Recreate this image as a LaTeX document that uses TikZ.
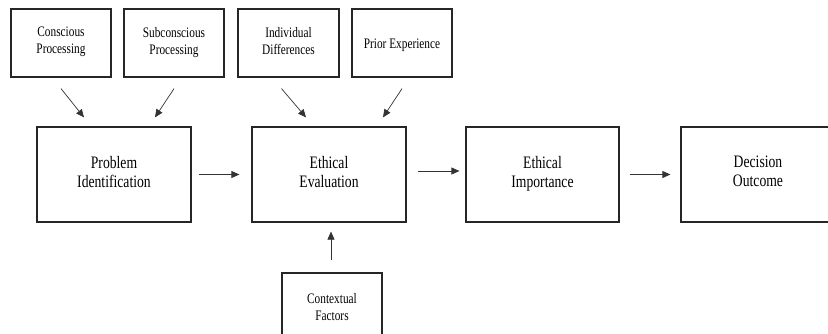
\documentclass[tikz,border=0pt]{standalone}
\usepackage{fontspec}
\setmainfont{Liberation Serif}[FakeStretch=0.78]
\usetikzlibrary{arrows.meta}
\begin{document}
\begin{tikzpicture}[x=1pt,y=-1pt,
  bigbox/.style={draw=black!85,line width=1.2pt,minimum width=154pt,minimum height=95pt,align=center,inner sep=0pt,font=\fontsize{17.5}{19}\selectfont,execute at begin node={\rule{0pt}{16pt}},execute at end node={\rule[-6pt]{0pt}{6pt}}},
  smallbox/.style={draw=black!85,line width=1.2pt,minimum width=100pt,minimum height=68pt,align=center,inner sep=0pt,font=\fontsize{14.5}{17}\selectfont,execute at begin node={\rule{0pt}{16pt}},execute at end node={\rule[-5pt]{0pt}{5pt}}},
  arr/.style={draw=black!80,line width=0.7pt,-{Triangle[length=8pt,width=7pt]}}]
\useasboundingbox (0,0) rectangle (828,334);
\clip (0,0) rectangle (828,334);
% top boxes
\node[smallbox] (cp) at (61,43) {Conscious\\Processing};
\node[smallbox] (sp) at (174,43) {Subconscious\\Processing};
\node[smallbox,minimum width=101pt] (id) at (288.5,43) {Individual\\Differences};
\node[smallbox] (pe) at (402,43) {Prior Experience};
% main boxes
\node[bigbox] (pi) at (114,174.5) {Problem\\Identification};
\node[bigbox] (ee) at (329,174.5) {Ethical\\Evaluation};
\node[bigbox,minimum width=153pt] (ei) at (542.5,174.5) {Ethical\\Importance};
\node[bigbox] (do) at (758,174.5) {Decision\\Outcome};
% bottom box
\node[smallbox,minimum height=72pt] (cf) at (332,309) {Contextual\\Factors};
% arrows from top boxes
\draw[arr] ([yshift=-11pt]cp.south) -- ([xshift=-30pt,yshift=9pt]pi.north);
\draw[arr] ([yshift=-11pt]sp.south) -- ([xshift=41pt,yshift=9pt]pi.north);
\draw[arr] ([xshift=-7pt,yshift=-11pt]id.south) -- ([xshift=-23pt,yshift=9pt]ee.north);
\draw[arr] ([yshift=-11pt]pe.south) -- ([xshift=54pt,yshift=9pt]ee.north);
% horizontal arrows
\draw[arr] ([xshift=7pt]pi.east) -- ([xshift=-12pt]ee.west);
\draw[arr] ([xshift=11pt,yshift=3.5pt]ee.east) -- ([xshift=-6pt,yshift=3.5pt]ei.west);
\draw[arr] ([xshift=10pt]ei.east) -- ([xshift=-10pt]do.west);
% bottom arrow
\draw[arr] ([xshift=-1pt,yshift=12pt]cf.north) -- ([xshift=2pt,yshift=-9pt]ee.south);
\end{tikzpicture}
\end{document}
